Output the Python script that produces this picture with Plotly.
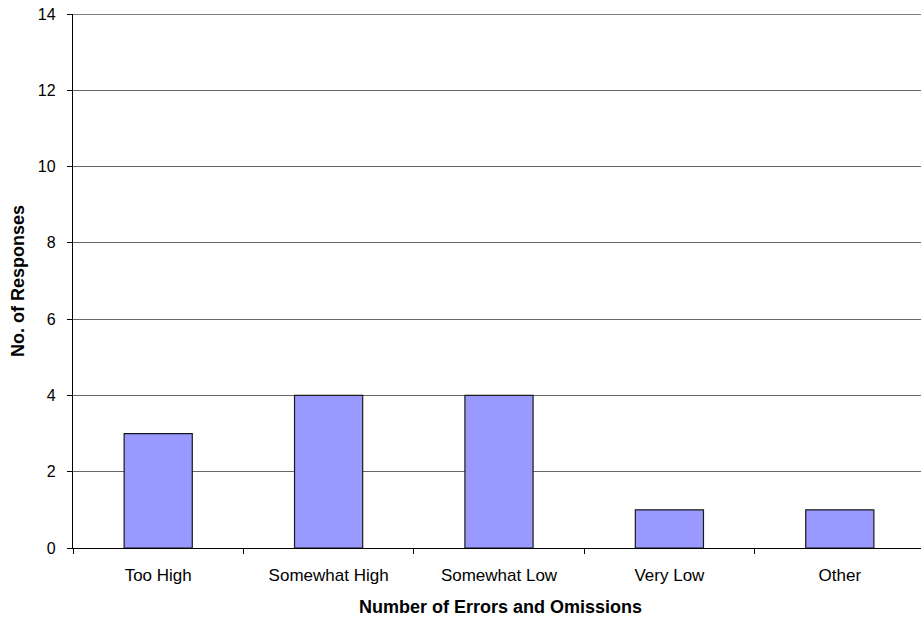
import plotly.graph_objects as go

categories = ["Too High", "Somewhat High", "Somewhat Low", "Very Low", "Other"]
responses = [3, 4, 4, 1, 1]
y_ticks = [0, 2, 4, 6, 8, 10, 12, 14]

W, H = 921, 619
left, top, bottom_px = 73, 14, 548
cat_w = 170.4
plot_w = W - left
x_max = -0.5 + plot_w / cat_w

fig = go.Figure(go.Bar(
    x=categories, y=responses, width=0.4,
    marker=dict(color="#9999FF", line=dict(color="#1a1a1a", width=1.2)),
))

fig.update_layout(
    width=W, height=H,
    margin=dict(l=left, r=0, t=top, b=H - bottom_px),
    paper_bgcolor="white", plot_bgcolor="white",
    font=dict(family="Liberation Sans, Arial, sans-serif", size=16, color="black"),
    showlegend=False,
    bargap=0.6,
)
fig.update_xaxes(
    range=[-0.5, x_max], showgrid=False, showline=True, linecolor="black", linewidth=1.3,
    ticks="outside", tickson="boundaries", ticklen=5, tickcolor="black", tickwidth=1,
    ticklabelstandoff=11, tickfont=dict(size=17),
)
fig.update_yaxes(
    range=[0, 14], tickvals=y_ticks, showgrid=True, gridcolor="#666666", gridwidth=1,
    showline=True, linecolor="black", linewidth=1.3, zeroline=False,
    ticks="outside", ticklen=5, tickcolor="black", tickwidth=1,
    ticklabelstandoff=8, tickfont=dict(size=16), ticklabeloverflow="allow",
)
# top gridline at the last tick (Plotly omits the gridline at the range edge)
fig.add_shape(type="line", xref="paper", yref="y", x0=0, x1=1,
              y0=y_ticks[-1], y1=y_ticks[-1], line=dict(color="#555555", width=1.3))
fig.add_annotation(
    text="<b>No. of Responses</b>", textangle=-90, xref="paper", yref="paper",
    x=0, y=0.5, xshift=-55, xanchor="center", yanchor="middle", showarrow=False,
    font=dict(size=18),
)
fig.add_annotation(
    text="<b>Number of Errors and Omissions</b>", xref="paper", yref="paper",
    x=(500 - left) / plot_w, y=0, yshift=-59, xanchor="center", yanchor="middle",
    showarrow=False, font=dict(size=18),
)

fig.write_html(
    "out.html",
    config={"displayModeBar": False},
    post_script="document.body.style.margin='0';document.body.style.overflow='hidden';",
)
